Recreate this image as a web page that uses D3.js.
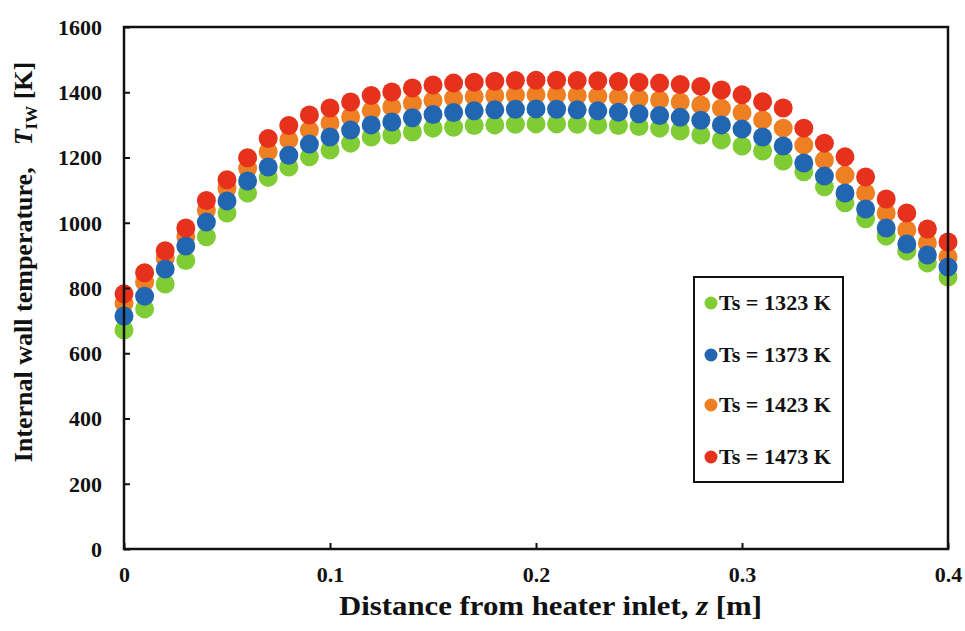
<!DOCTYPE html>
<html><head><meta charset="utf-8">
<script src="https://cdn.jsdelivr.net/npm/d3@7"></script>
<style>
html,body{margin:0;padding:0;background:#fff;}
svg{display:block;font-family:"Liberation Serif","Times New Roman",serif;font-weight:bold;}
</style></head>
<body><svg id="chart" width="965" height="631"></svg>
<script>
const zValues = [0,0.01,0.02,0.03,0.04,0.05,0.06,0.07,0.08,0.09,0.10,0.11,0.12,0.13,0.14,0.15,0.16,0.17,0.18,0.19,0.20,0.21,0.22,0.23,0.24,0.25,0.26,0.27,0.28,0.29,0.30,0.31,0.32,0.33,0.34,0.35,0.36,0.37,0.38,0.39,0.40];
const ts1323 = [671,736,812,884,957,1030,1091,1139,1171,1202,1223,1244,1263,1269,1278,1290,1293,1298,1300,1302,1303,1303,1302,1300,1298,1295,1290,1281,1269,1254,1235,1220,1189,1156,1110,1061,1012,959,913,877,834];
const ts1373 = [714,775,858,929,1002,1067,1128,1171,1207,1241,1263,1284,1300,1309,1322,1332,1338,1343,1346,1348,1349,1348,1346,1343,1339,1334,1329,1323,1314,1300,1287,1263,1235,1183,1143,1091,1042,984,935,901,864];
const ts1423 = [754,818,892,957,1039,1106,1167,1218,1254,1284,1306,1324,1343,1355,1366,1375,1382,1386,1389,1391,1392,1392,1390,1388,1385,1381,1376,1370,1361,1351,1337,1315,1290,1238,1192,1146,1091,1030,978,938,895];
const ts1473 = [782,847,914,984,1068,1132,1199,1258,1298,1330,1352,1370,1390,1401,1413,1422,1428,1431,1434,1436,1437,1437,1436,1435,1433,1431,1428,1424,1418,1407,1392,1371,1352,1290,1244,1202,1140,1073,1030,981,941];
const seriesNames = ["Ts = 1323 K","Ts = 1373 K","Ts = 1423 K","Ts = 1473 K"];
const seriesColors = ["#80cc36","#2266b2","#ee7f24","#e6311d"];
const yTicks = [0,200,400,600,800,1000,1200,1400,1600];
const xTicks = [0,0.1,0.2,0.3,0.4];

const svg = d3.select("#chart");
const L=124, R=948, T=27, B=549;
const x = d3.scaleLinear().domain([0,0.4]).range([L,R]);
const y = d3.scaleLinear().domain([0,1600]).range([B,T]);

const defs = svg.append("defs");
defs.append("filter").attr("id","soft").append("feGaussianBlur").attr("stdDeviation",0.7);

// series
const allSeries = [ts1323, ts1373, ts1423, ts1473];
const drawOrder = [0,2,1,3];
const gPts = svg.append("g").attr("filter","url(#soft)");
drawOrder.forEach(i=>{
  gPts.append("g").selectAll("circle").data(zValues.map((z,k)=>({z, v: allSeries[i][k]})))
    .enter().append("circle")
    .attr("cx", d=>x(d.z)).attr("cy", d=>y(d.v)).attr("r", 9.5)
    .attr("fill", seriesColors[i]);
});

// axes
const yAxis = d3.axisLeft(y).tickValues(yTicks).tickSize(-6).tickPadding(22).tickFormat(d3.format("d"));
const gy = svg.append("g").attr("transform",`translate(${L},0)`).call(yAxis);
gy.select(".domain").remove();
gy.selectAll(".tick line").attr("stroke","#111").attr("stroke-width",2);
gy.selectAll("text").attr("font-size",22).attr("font-family","Liberation Serif").attr("font-weight","bold").attr("fill","#111").attr("dy","0.34em");

const xAxis = d3.axisBottom(x).tickValues(xTicks).tickSize(-6).tickPadding(17).tickFormat(d=>d===0?"0":d3.format(".1f")(d));
const gx = svg.append("g").attr("transform",`translate(0,${B})`).call(xAxis);
gx.select(".domain").remove();
gx.selectAll(".tick line").attr("stroke","#111").attr("stroke-width",2);
gx.selectAll("text").attr("font-size",22).attr("font-family","Liberation Serif").attr("font-weight","bold").attr("fill","#111");

// frame
svg.append("rect").attr("x",L).attr("y",T).attr("width",R-L).attr("height",B-T)
  .attr("fill","none").attr("stroke","#111").attr("stroke-width",2.5);

// x title
const xt = svg.append("text").attr("x",(339+762)/2).attr("y",615).attr("text-anchor","middle")
  .attr("font-size",27).attr("fill","#111")
  .attr("textLength",423).attr("lengthAdjust","spacingAndGlyphs");
xt.append("tspan").text("Distance from heater inlet, ");
xt.append("tspan").attr("font-style","italic").text("z");
xt.append("tspan").text(" [m]");

// y title
const yt = svg.append("text").attr("transform","translate(32,262) rotate(-90)").attr("text-anchor","middle")
  .attr("font-size",26).attr("fill","#111");
yt.append("tspan").text("Internal wall temperature,");
yt.append("tspan").attr("dx",22).attr("font-style","italic").text("T");
yt.append("tspan").attr("font-size",17).attr("dy",5).text("IW");
yt.append("tspan").attr("dy",-5).text(" [K]");

// legend
const lg = svg.append("g");
lg.append("rect").attr("x",694).attr("y",277).attr("width",149).attr("height",205)
  .attr("fill","#fff").attr("stroke","#111").attr("stroke-width",2);
const legY = [303,355,405,457];
seriesNames.forEach((n,i)=>{
  lg.append("circle").attr("cx",711).attr("cy",legY[i]).attr("r",6.5).attr("fill",seriesColors[i]).attr("filter","url(#soft)");
  lg.append("text").attr("x",719).attr("y",legY[i]+7).attr("font-size",20).attr("fill","#111")
    .attr("textLength",112).attr("lengthAdjust","spacingAndGlyphs").text(n);
});
</script></body></html>
